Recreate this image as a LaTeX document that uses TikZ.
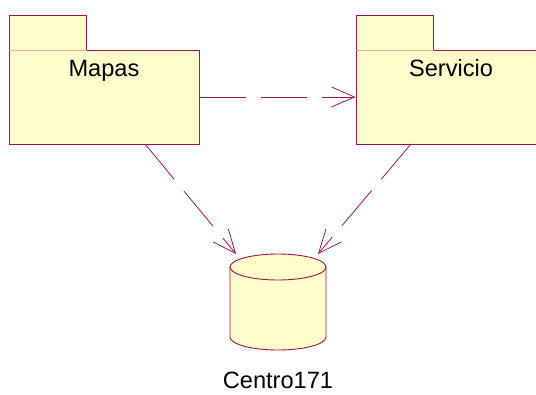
\documentclass[tikz,border=0pt]{standalone}
\usepackage{fontspec}
\setmainfont{Liberation Sans}
\usetikzlibrary{arrows.meta}
\definecolor{umlline}{HTML}{9E1446}
\definecolor{umlfill}{HTML}{FFFDCB}
\definecolor{tabline}{HTML}{E0B08C}
\tikzset{
  pkgbody/.style={draw=umlline, fill=umlfill, line width=1pt, minimum width=190pt, minimum height=94pt, inner sep=0pt},
  pkgtab/.style={draw=umlline, fill=umlfill, line width=1pt, minimum width=77pt, minimum height=35pt, inner sep=0pt},
  lbl/.style={font=\fontsize{23.6}{28}\selectfont, inner sep=0pt, anchor=base},
  dep/.style={draw=umlline, line width=0.8pt, dash pattern=on 46pt off 15pt,
    -{Straight Barb[length=23pt, width=20pt, line width=0.8pt]}}
}
\begin{document}
\begin{tikzpicture}[x=1pt, y=-1pt]
  \useasboundingbox (0,0) rectangle (536,394);
  \clip (0,0) rectangle (536,394);

  % package Mapas
  \node[pkgbody] (mapas) at (104,97) {};
  \node[pkgtab] (mapastab) at (47.5,32.5) {};
  \draw[tabline, line width=1pt] (mapastab.south west) -- (mapastab.south east);
  \node[lbl] (mapaslbl) at (104,76) {Mapas};

  % package Servicio
  \node[pkgbody] (servicio) at (451,97) {};
  \node[pkgtab] (serviciotab) at (394.5,32.5) {};
  \draw[tabline, line width=1pt] (serviciotab.south west) -- (serviciotab.south east);
  \node[lbl] (serviciolbl) at (451,76) {Servicio};

  % database Centro171
  \node[minimum width=96pt, minimum height=96pt, inner sep=0pt] (db) at (278,302) {};
  \fill[umlfill] (230,267) -- (230,337) arc (180:0:48 and 13) -- (326,267) arc (0:-180:48 and 13) -- cycle;
  \draw[umlline, line width=0.9pt] (230,267) -- (230,337) arc (180:0:48 and 13) -- (326,267) arc (0:-180:48 and 13) -- cycle;
  \draw[umlline, line width=0.9pt] (230,267) arc (180:0:48 and 13);
  \node[lbl] (dblbl) at (278,388) {Centro171};

  % dependency end points
  \coordinate (mapasout) at (145,144);
  \coordinate (servout) at (411,144);
  \coordinate (dbinL) at (236,254);
  \coordinate (dbinR) at (318,254);

  % dependencies
  \draw[dep] (mapas.east) -- (servicio.west);
  \draw[dep] (mapasout) -- (dbinL);
  \draw[dep] (servout) -- (dbinR);
\end{tikzpicture}
\end{document}
